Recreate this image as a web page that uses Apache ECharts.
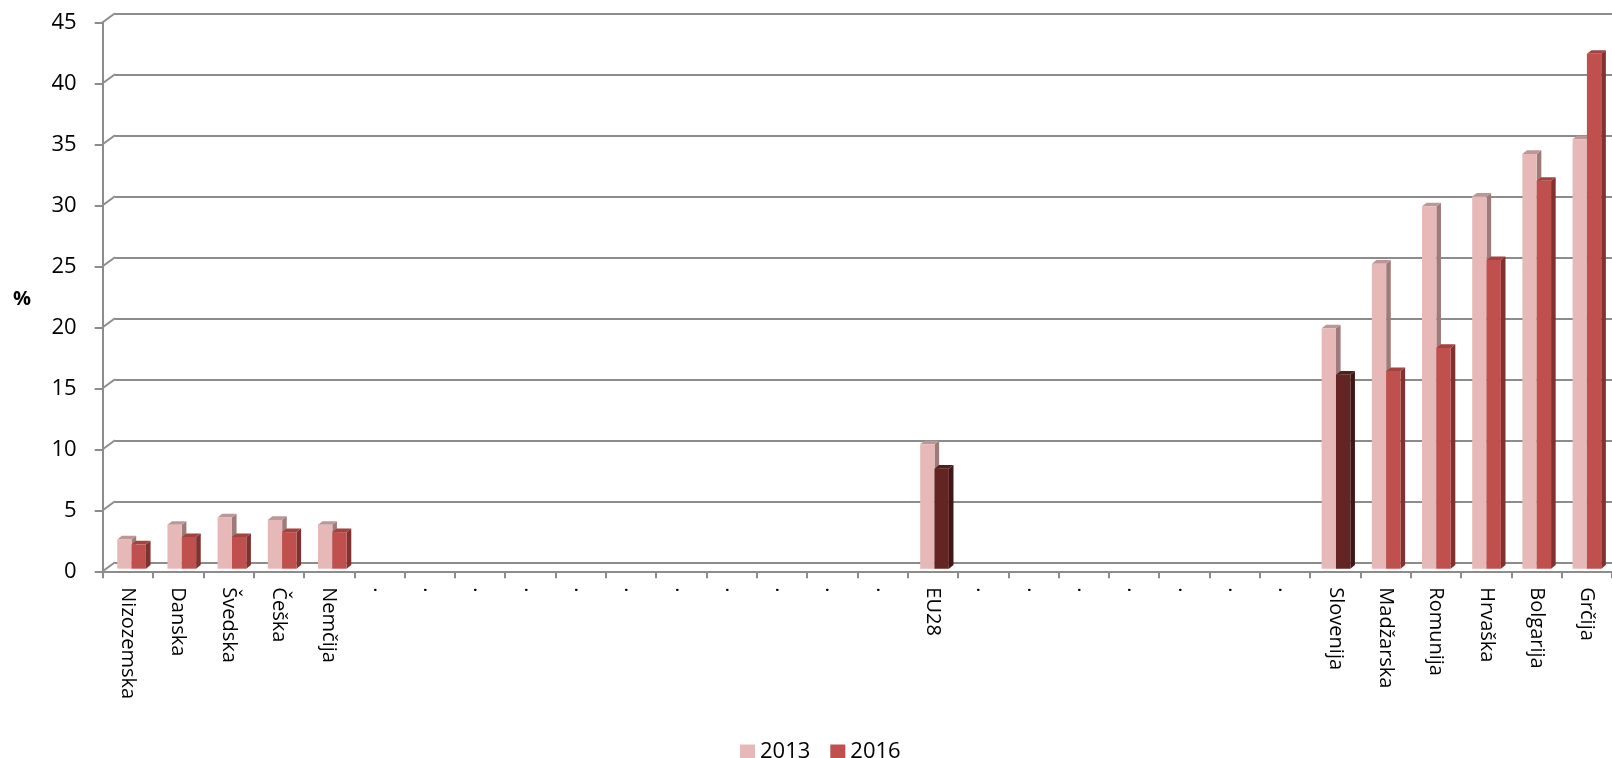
<!DOCTYPE html>
<html><head><meta charset="utf-8">
<script src="https://cdn.jsdelivr.net/npm/echarts@6/dist/echarts.min.js"></script>
<style>html,body{margin:0;padding:0;background:#fff}#c{width:1612px;height:758px}</style>
</head><body><div id="c"></div>
<script>
var categories = ['Nizozemska','Danska','Švedska','Češka','Nemčija',
  '.','.','.','.','.','.','.','.','.','.','.',
  'EU28',
  '.','.','.','.','.','.','.',
  'Slovenija','Madžarska','Romunija','Hrvaška','Bolgarija','Grčija'];
var values2013 = [2.4,3.6,4.2,4.0,3.6,
  null,null,null,null,null,null,null,null,null,null,null,
  10.2,
  null,null,null,null,null,null,null,
  19.7,25.0,29.7,30.5,34.0,35.2];
var values2016 = [2.0,2.6,2.6,3.0,3.0,
  null,null,null,null,null,null,null,null,null,null,null,
  8.2,
  null,null,null,null,null,null,null,
  15.9,16.2,18.1,25.3,31.8,42.2];
var highlighted = ['EU28','Slovenija'];
var seriesNames = ['2013','2016'];
var yTicks = [0,5,10,15,20,25,30,35,40,45];

var FONT = '"Open Sans"';
var AXIS = '#8c8c8c';
var styles = {
  s2013: {front:'#E6B9B8', side:'#9E7A79', top:'#BC9796'},
  s2016: {front:'#C0504D', side:'#7F3230', top:'#A24340'},
  dark:  {front:'#632523', side:'#3F1716', top:'#521F1D'}
};
var DX = 4.6, DY = 3.6, BARFRAC = 0.286;

function makeRender(which) {
  return function (params, api) {
    var idx = api.value(0), v = api.value(1);
    if (v == null || isNaN(v)) return;
    var top = api.coord([idx, v]);
    var base = api.coord([idx, 0]);
    var bw = api.size([1, 0])[0] * BARFRAC;
    var x0 = which === 0 ? top[0] - bw : top[0];
    var x1 = x0 + bw;
    var st = which === 0 ? styles.s2013 :
      (highlighted.indexOf(categories[idx]) >= 0 ? styles.dark : styles.s2016);
    return {type:'group', children:[
      {type:'polygon', shape:{points:[[x1,top[1]],[x1+DX,top[1]-DY],[x1+DX,base[1]-DY],[x1,base[1]]]}, style:{fill:st.side}},
      {type:'polygon', shape:{points:[[x0,top[1]],[x0+DX,top[1]-DY],[x1+DX,top[1]-DY],[x1,top[1]]]}, style:{fill:st.top}},
      {type:'rect', shape:{x:x0, y:top[1], width:bw, height:base[1]-top[1]}, style:{fill:st.front}}
    ]};
  };
}
function toData(arr){ var out=[]; arr.forEach(function(v,i){ if(v!=null) out.push([i,v]); }); return out; }

var frontLeft = 102.7, frontTop = 22.3, backLeft = 115, backTop = 13.3, plotH = 549, plotW = 1511;
var barLeft = 106.5, barTop = 19.7;

var chart = echarts.init(document.getElementById('c'));
chart.setOption({
  animation:false,
  textStyle:{fontFamily:FONT},
  grid:[
    {left:frontLeft, top:frontTop, width:plotW, height:plotH},
    {left:backLeft, top:backTop, width:plotW, height:plotH},
    {left:barLeft, top:barTop, width:plotW, height:plotH}
  ],
  xAxis:[
    {type:'category', gridIndex:0, data:categories, boundaryGap:true,
     axisLine:{lineStyle:{color:AXIS, width:2}},
     axisTick:{show:true, length:7, lineStyle:{color:AXIS, width:2}},
     axisLabel:{rotate:-90, margin:16, color:'#000', fontSize:20, fontFamily:FONT, interval:0}},
    {type:'category', gridIndex:1, data:categories, show:false},
    {type:'category', gridIndex:2, data:categories, show:false}
  ],
  yAxis:[
    {type:'value', gridIndex:0, min:0, max:45, interval:5,
     axisLine:{show:true, lineStyle:{color:AXIS, width:2}},
     axisTick:{show:true, length:8, lineStyle:{color:AXIS, width:2}},
     axisLabel:{margin:26, color:'#000', fontSize:22, fontFamily:FONT},
     splitLine:{show:false}},
    {type:'value', gridIndex:1, min:0, max:45, interval:5,
     axisLine:{show:false}, axisTick:{show:false}, axisLabel:{show:false},
     splitLine:{show:true, lineStyle:{color:AXIS, width:2}}},
    {type:'value', gridIndex:2, min:0, max:45, interval:5, show:false, splitLine:{show:false}}
  ],
  legend:{left:735, top:736, itemWidth:15, itemHeight:15, itemGap:20, icon:'rect',
    textStyle:{fontSize:22, color:'#000', fontFamily:FONT},
    data:seriesNames},
  series:[
    {name:seriesNames[0], type:'custom', xAxisIndex:2, yAxisIndex:2, renderItem:makeRender(0),
     itemStyle:{color:styles.s2013.front}, encode:{x:0, y:1}, data:toData(values2013)},
    {name:seriesNames[1], type:'custom', xAxisIndex:2, yAxisIndex:2, renderItem:makeRender(1),
     itemStyle:{color:styles.s2016.front}, encode:{x:0, y:1}, data:toData(values2016)}
  ]
});

// 3D connectors between the front y-axis ticks and the back-wall gridlines
var g = [];
yTicks.forEach(function(v){
  var yf = chart.convertToPixel({yAxisIndex:0}, v);
  var yb = chart.convertToPixel({yAxisIndex:1}, v);
  g.push({type:'line', shape:{x1:frontLeft, y1:yf, x2:backLeft, y2:yb}, style:{stroke:AXIS, lineWidth:2}, silent:true});
});
g.push({type:'text', left:13, top:289, style:{text:'%', font:'bold 20px ' + FONT, fill:'#000'}});
chart.setOption({graphic:g});
</script>
</body></html>
